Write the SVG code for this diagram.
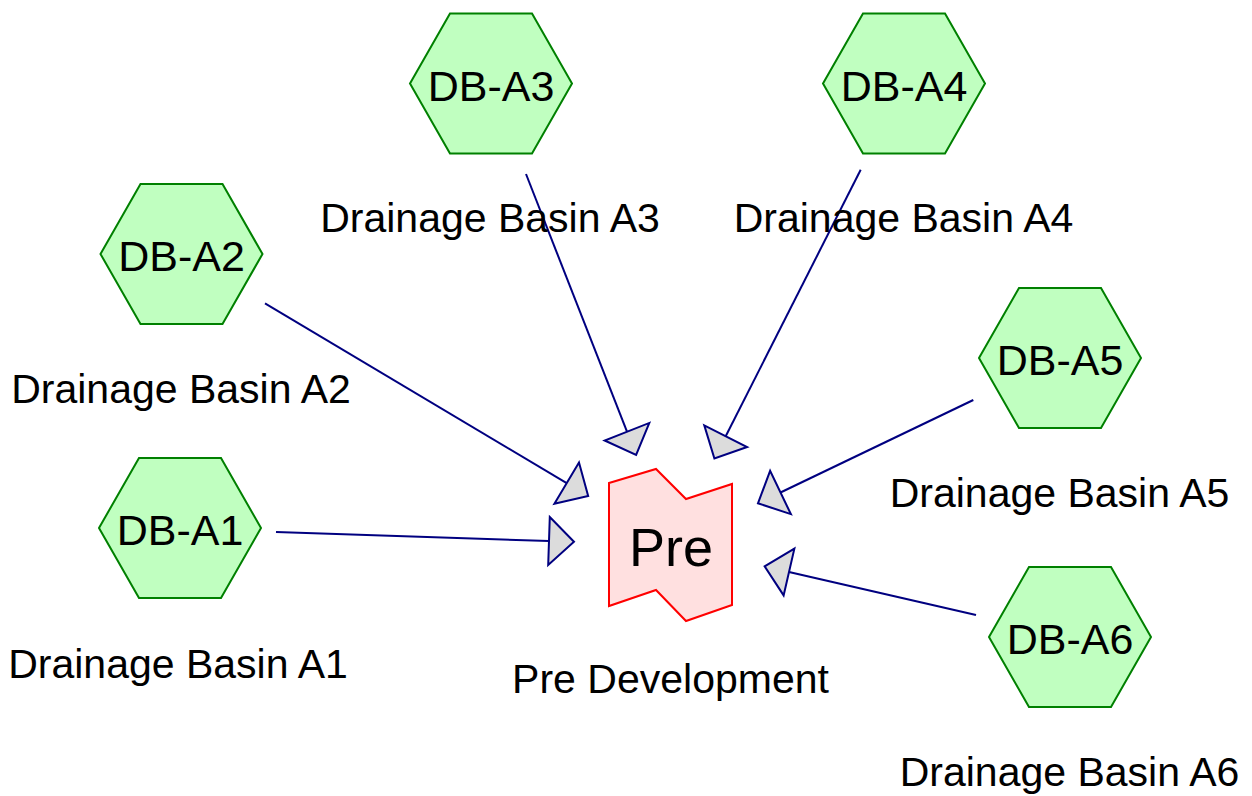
<svg xmlns="http://www.w3.org/2000/svg" xmlns:xlink="http://www.w3.org/1999/xlink" width="1252" height="796" viewBox="0 0 1252 796">
<style>
.hex{fill:#c0ffc0;stroke:#008000;stroke-width:2}
.pre{fill:#ffe0e0;stroke:#ff0000;stroke-width:2}
.edge{fill:none;stroke:#000080;stroke-width:2}
.nt{font-family:"Liberation Sans",Arial,sans-serif;font-size:43px;fill:#000;text-anchor:middle}
.lbl{font-family:"Liberation Sans",Arial,sans-serif;font-size:41px;fill:#000;text-anchor:middle}
</style>
<defs>
<polygon id="hexshape" points="-81,0 -41,-70 41,-70 81,0 41,70 -41,70"/>
<marker id="arr" markerUnits="userSpaceOnUse" markerWidth="30" markerHeight="54" viewBox="-2 -26 30 52" refX="0" refY="0" orient="auto">
<path d="M0,-24 L25,0 L0,24 Z" fill="#dcdcdc" stroke="#000080" stroke-width="2"/>
</marker>
</defs>
<rect width="1252" height="796" fill="#ffffff"/>
<g id="connectors">
<line class="edge" x1="276" y1="532" x2="549" y2="541" marker-end="url(#arr)"/>
<line class="edge" x1="265" y1="303.3" x2="566.7" y2="483.2" marker-end="url(#arr)"/>
<line class="edge" x1="526" y1="174" x2="627" y2="431.7" marker-end="url(#arr)"/>
<line class="edge" x1="860.7" y1="169.7" x2="725.7" y2="436.2" marker-end="url(#arr)"/>
<line class="edge" x1="973.3" y1="400" x2="780.5" y2="492.5" marker-end="url(#arr)"/>
<line class="edge" x1="976" y1="615" x2="789" y2="572" marker-end="url(#arr)"/>
</g>
<g id="pre">
<polygon class="pre" points="609,483 656,469 686,499 732,484 732,605 686,621 656,590 609,606"/>
<text class="nt" style="font-size:54px" x="671" y="566">Pre</text>
<text class="lbl" x="670.5" y="693">Pre Development</text>
</g>
<g id="db-a1">
<use xlink:href="#hexshape" class="hex" transform="translate(180,528)"/>
<text class="nt" x="180" y="545">DB-A1</text>
<text class="lbl" x="178" y="678">Drainage Basin A1</text>
</g>
<g id="db-a2">
<use xlink:href="#hexshape" class="hex" transform="translate(181.5,254)"/>
<text class="nt" x="181.5" y="271">DB-A2</text>
<text class="lbl" x="181" y="403">Drainage Basin A2</text>
</g>
<g id="db-a3">
<use xlink:href="#hexshape" class="hex" transform="translate(491,83.5)"/>
<text class="nt" x="491" y="100.5">DB-A3</text>
<text class="lbl" x="490" y="232">Drainage Basin A3</text>
</g>
<g id="db-a4">
<use xlink:href="#hexshape" class="hex" transform="translate(904,83.5)"/>
<text class="nt" x="904" y="100.5">DB-A4</text>
<text class="lbl" x="903.5" y="232">Drainage Basin A4</text>
</g>
<g id="db-a5">
<use xlink:href="#hexshape" class="hex" transform="translate(1060,358)"/>
<text class="nt" x="1060" y="375">DB-A5</text>
<text class="lbl" x="1059.5" y="507">Drainage Basin A5</text>
</g>
<g id="db-a6">
<use xlink:href="#hexshape" class="hex" transform="translate(1070,637)"/>
<text class="nt" x="1070" y="654">DB-A6</text>
<text class="lbl" x="1069.5" y="786">Drainage Basin A6</text>
</g>
</svg>
